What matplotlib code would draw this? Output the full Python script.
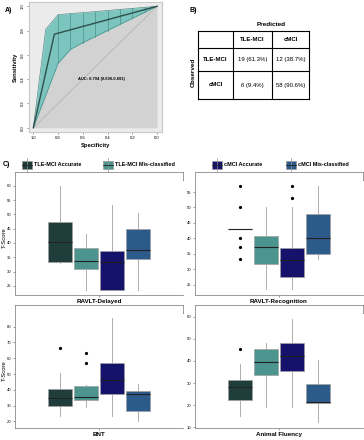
import numpy as np
import matplotlib.pyplot as plt
from matplotlib.patches import Rectangle

plt.rcParams['font.family'] = ['Liberation Sans', 'DejaVu Sans']

W, H = 364, 440

# ---- panel A: ROC curve with CI band ----
roc_spec = [1.0, 0.83, 0.0]
roc_sens = [0.0, 0.77, 1.0]
ci_spec = [1.0, 0.9, 0.8, 0.7, 0.6, 0.5, 0.4, 0.3, 0.2, 0.1, 0.0]
ci_upper = [0.0, 0.81, 0.93, 0.94, 0.947, 0.956, 0.965, 0.974, 0.982, 0.991, 1.0]
ci_lower = [0.0, 0.265, 0.53, 0.645, 0.70, 0.75, 0.80, 0.85, 0.90, 0.95, 1.0]
auc_label = "AUC: 0.794 (0.698-0.891)"

# ---- panel B: classification table ----
classes = ["TLE-MCI", "cMCI"]
counts = [[19, 12], [6, 58]]
percents = [[61.3, 38.7], [9.4, 90.6]]

# ---- panel C: boxplots, [whislo, q1, med, q3, whishi] per group ----
groups = ["TLE-MCI Accurate", "TLE-MCI Mis-classified", "cMCI Accurate", "cMCI Mis-classified"]
group_colors = ["#1f3e3b", "#4b958e", "#14126b", "#2c5a89"]
tests = ["RAVLT-Delayed", "RAVLT-Recognition", "BNT", "Animal Fluency"]
delayed = [[33.0, 33.4, 40.4, 47.4, 60.0], [23.6, 31.0, 33.6, 38.1, 43.1],
           [23.6, 23.6, 33.3, 37.2, 53.2], [23.6, 34.5, 37.4, 44.7, 50.3]]
delayed_out = [[], [], [], []]
recog = [[43.1, 43.1, 43.1, 43.1, 43.1], [23.5, 31.6, 37.1, 40.8, 50.0],
         [23.5, 27.3, 33.1, 37.0, 50.0], [33.3, 34.9, 40.2, 47.9, 57.0]]
recog_out = [[57.0, 50.2, 40.2, 37.1, 33.3], [], [57.0, 52.9], []]
bnt = [[23.6, 29.5, 34.6, 40.5, 50.4], [29.3, 33.3, 35.4, 42.2, 43.0],
       [23.6, 37.5, 46.0, 57.0, 85.5], [20.0, 26.7, 37.5, 39.4, 43.5]]
bnt_out = [[66.5], [63.5, 56.8], [], []]
fluency = [[15.3, 22.2, 28.2, 31.3, 38.4], [19.2, 33.8, 39.3, 45.2, 48.1],
           [19.2, 35.3, 42.4, 48.1, 59.0], [12.4, 21.2, 21.5, 29.5, 40.3]]
fluency_out = [[45.3], [], [], []]

fig = plt.figure(figsize=(W / 100, H / 100), dpi=100)


def px_axes(x0, y0, x1, y1):
    return fig.add_axes([x0 / W, 1 - y1 / H, (x1 - x0) / W, (y1 - y0) / H])


# overlay for labels, table and legend (pixel coordinates)
ov = px_axes(0, 0, W, H)
ov.set_xlim(0, W)
ov.set_ylim(H, 0)
ov.axis('off')

# ---- A ----
ax = px_axes(29, 2, 162, 132)
ax.set_facecolor('#ebebeb')
ax.fill_between(ci_spec, ci_lower, 0, color='#d2d2d2', lw=0)
ax.plot([1, 0], [0, 1], color='#a8a8a8', lw=0.4)
ax.fill_between(ci_spec, ci_lower, ci_upper, color='#7cc5bf', lw=0)
ax.plot(ci_spec, ci_upper, color='#4e8f8a', lw=0.5)
ax.plot(ci_spec, ci_lower, color='#4e8f8a', lw=0.5)
for s, lo, hi in zip(ci_spec[2:-1], ci_lower[2:-1], ci_upper[2:-1]):
    ax.plot([s, s], [lo, hi], color='#4e8f8a', lw=0.5)
ax.plot(roc_spec, roc_sens, color='#2f4f4c', lw=1.0)
ax.text(0.45, 0.4, auc_label, fontsize=2.9, fontweight='bold', ha='center', va='center')
ax.set_xlim(1.035, -0.04)
ax.set_ylim(-0.035, 1.035)
ax.set_xticks([1.0, 0.8, 0.6, 0.4, 0.2, 0.0])
ax.set_xticklabels(['1.0', '0.8', '0.6', '0.4', '0.2', '0.0'])
ax.set_yticks([0.0, 0.2, 0.4, 0.6, 0.8, 1.0])
ax.set_yticklabels(['0.0', '0.2', '0.4', '0.6', '0.8', '1.0'], rotation=90, va='center')
ax.tick_params(labelsize=3, length=1.5, width=0.4, pad=1.5, color='#555555')
for sp in ax.spines.values():
    sp.set_color('#c8c8c8')
    sp.set_linewidth(0.8)
ax.set_xlabel('Specificity', fontsize=4.2, fontweight='bold', labelpad=2)
ax.set_ylabel('Sensitivity', fontsize=4.2, fontweight='bold', labelpad=2)

ov.text(5, 10, 'A)', fontsize=5, fontweight='bold', va='center')
ov.text(190, 10, 'B)', fontsize=5, fontweight='bold', va='center')
ov.text(3, 164, 'C)', fontsize=5, fontweight='bold', va='center')

# ---- B ----
xs = [198, 233, 272, 309]
ys = [31, 48, 71, 99]
for x in xs:
    ov.plot([x, x], [ys[0], ys[-1]], color='black', lw=0.8)
for y in ys:
    ov.plot([xs[0], xs[-1]], [y, y], color='black', lw=0.8)
ov.text((xs[1] + xs[3]) / 2, 24, 'Predicted', fontsize=4.6, fontweight='bold', ha='center', va='center')
ov.text(193, 72, 'Observed', fontsize=4.6, fontweight='bold', ha='center', va='center', rotation=90)
for j, c in enumerate(classes):
    ov.text((xs[j + 1] + xs[j + 2]) / 2, (ys[0] + ys[1]) / 2, c, fontsize=4.4,
            fontweight='bold', ha='center', va='center')
for i, c in enumerate(classes):
    yc = (ys[i + 1] + ys[i + 2]) / 2
    ov.text((xs[0] + xs[1]) / 2, yc, c, fontsize=4.4, fontweight='bold', ha='center', va='center')
    for j in range(2):
        ov.text((xs[j + 1] + xs[j + 2]) / 2, yc, f"{counts[i][j]} ({percents[i][j]}%)",
                fontsize=4.3, ha='center', va='center')

# ---- C legend ----
icon_x = [22, 103, 212, 286]
for x, g, col in zip(icon_x, groups, group_colors):
    ov.plot([x + 5, x + 5], [158, 172], color='#999999', lw=0.5)
    ov.add_patch(Rectangle((x, 161), 10, 8, facecolor=col, edgecolor='#999999', lw=0.5))
    ov.plot([x, x + 10], [165, 165], color='#222222', lw=0.6)
    ov.text(x + 12, 165, g, fontsize=4, fontweight='bold', va='center')

# ---- C panels ----
panels = [
    (delayed, delayed_out, (15, 180, 183, 295), (21.8, 62), np.arange(25, 61, 5), True),
    (recog, recog_out, (195, 180, 363, 295), (21.6, 58.9), np.arange(25, 56, 5), False),
    (bnt, bnt_out, (15, 313, 183, 428), (15.8, 88.7), np.arange(20, 81, 10), True),
    (fluency, fluency_out, (195, 313, 363, 428), (9.7, 61.6), np.arange(10, 61, 10), False),
]
offsets = [-0.28, -0.093, 0.093, 0.28]
for (stats, outs, box, ylim, ticks, left), name in zip(panels, tests):
    x0, y0, x1, y1 = box
    strip = px_axes(x0, y0 - 8, x1, y0)
    strip.set_xticks([])
    strip.set_yticks([])
    for sp in strip.spines.values():
        sp.set_color('#8a8a8a')
        sp.set_linewidth(0.6)
    a = px_axes(x0, y0, x1, y1)
    bstats = []
    for s, fl in zip(stats, outs):
        bstats.append(dict(whislo=s[0], q1=s[1], med=s[2], q3=s[3], whishi=s[4], fliers=fl))
    parts = a.bxp(bstats, positions=[1 + o for o in offsets], widths=0.17, patch_artist=True,
                  showcaps=False, manage_ticks=False,
                  boxprops=dict(edgecolor='#a0a0a0', lw=0.5),
                  whiskerprops=dict(color='#a0a0a0', lw=0.6),
                  medianprops=dict(color='#222222', lw=0.8),
                  flierprops=dict(marker='o', markersize=1.3, markerfacecolor='black',
                                  markeredgecolor='black'))
    for p, col in zip(parts['boxes'], group_colors):
        p.set_facecolor(col)
    a.set_xlim(0.4, 1.6)
    a.set_ylim(*ylim)
    a.set_yticks(ticks)
    a.set_xticks([1])
    a.set_xticklabels([name], fontsize=4.5, fontweight='bold')
    a.tick_params(axis='y', labelsize=3, length=1.5, width=0.4, pad=1, color='#555555')
    a.tick_params(axis='x', length=1.2, width=0.4, pad=1.5, color='#555555')
    for k in ['top', 'right']:
        a.spines[k].set_visible(False)
    for k in ['left', 'bottom']:
        a.spines[k].set_color('#8a8a8a')
        a.spines[k].set_linewidth(0.6)
    if left:
        ov.text(4, (y0 + y1) / 2, 'T-Score', fontsize=4.2, rotation=90,
                ha='center', va='center')

fig.savefig('out.png', dpi=100)
